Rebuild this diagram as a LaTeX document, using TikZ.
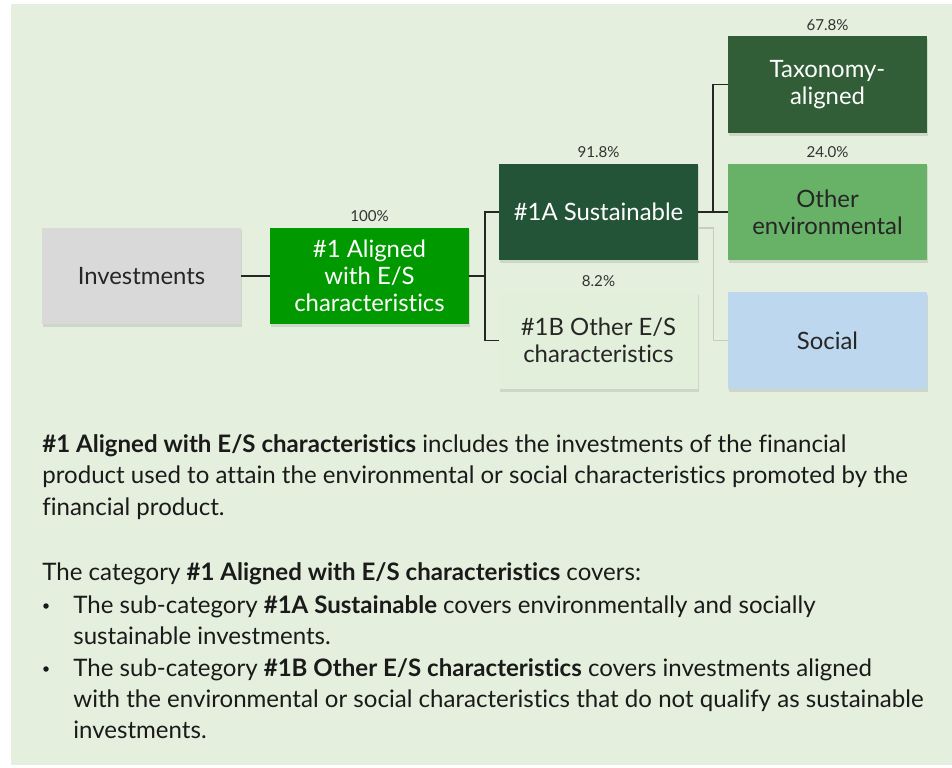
\documentclass[tikz,border=0pt]{standalone}
\usepackage{fontspec}
\setmainfont{Lato}[Ligatures=NoCommon]
\usetikzlibrary{positioning,shadows}
\definecolor{panelbg}{HTML}{E4EFDD}
\definecolor{boxgrey}{HTML}{D9D9D9}
\definecolor{alignedgreen}{HTML}{009900}
\definecolor{sustgreen}{HTML}{245438}
\definecolor{taxogreen}{HTML}{315E36}
\definecolor{envgreen}{HTML}{67B266}
\definecolor{otherlight}{HTML}{E2EFDA}
\definecolor{socialblue}{HTML}{BDD7EE}
\definecolor{linkgrey}{HTML}{C9C9C9}
\definecolor{pcttext}{HTML}{333333}
\definecolor{bodytext}{HTML}{1A1A1A}

\begin{document}
\begin{tikzpicture}[x=0.02cm, y=-0.02cm,
        every node/.style={inner sep=0pt},
        cat/.style={rectangle, minimum width=3.98cm, minimum height=1.94cm, align=center,
                font=\fontsize{13.6}{15.4}\selectfont,
                drop shadow={shadow xshift=0.6pt, shadow yshift=-1.6pt, opacity=0.22}},
        pct/.style={font=\fontsize{8.6}{10}\selectfont, text=pcttext},
        link/.style={line width=0.8pt, black!85},
        softlink/.style={line width=0.8pt, linkgrey},
        body/.style={anchor=base west, font=\fontsize{13.7}{16}\selectfont, text=bodytext},
        dot/.style={circle, fill=bodytext, minimum size=0.11cm}
    ]

    % ================= panel =================
    \useasboundingbox (0,0) rectangle (952,767);
    \fill[panelbg] (11,4) rectangle (952,765);

    % ================= asset allocation tree =================
    \node[cat, fill=boxgrey, text=black!85] (inv) at (141.5,276) {Investments};
    \node[cat, fill=alignedgreen, text=white] (aligned) at (369.5,276) {\#1 Aligned\\with E/S\\characteristics};
    \node[cat, fill=sustgreen, text=white] (sust) at (598.5,212) {\#1A Sustainable};
    \node[cat, fill=otherlight, text=black!85] (othES) at (598.5,340.5) {\#1B Other E/S\\characteristics};
    \node[cat, fill=taxogreen, text=white] (taxo) at (827.5,84.5) {Taxonomy-\\aligned};
    \node[cat, fill=envgreen, text=black!85] (env) at (827.5,212) {Other\\environmental};
    \node[cat, fill=socialblue, text=black!85] (social) at (827.5,340.5) {Social};

    \node[pct, above=0.1cm of aligned] (pAligned) {100\%};
    \node[pct, above=0.1cm of sust] (pSust) {91.8\%};
    \node[pct, above=0.1cm of othES] (pOthES) {8.2\%};
    \node[pct, above=0.1cm of taxo] (pTaxo) {67.8\%};
    \node[pct, above=0.1cm of env] (pEnv) {24.0\%};

    % ================= connectors =================
    \coordinate (fork1) at (485,276);
    \coordinate (fork2) at (713,212);
    \draw[link] (inv) -- (aligned);
    \draw[link] (aligned) -- (fork1);
    \draw[link] (sust.west) -| (fork1) |- (othES.west);
    \draw[link] (sust) -- (env);
    \draw[link] (taxo.west) -| (fork2);
    \draw[softlink] ([yshift=-0.32cm]sust.east) -- ++(15,0) |- (social.west);

    % ================= explanatory text =================
    \node[body] (txt1) at (42,452) {\textbf{\#1 Aligned with E/S characteristics} includes the investments of the financial};
    \node[body] (txt2) at (42,483) {product used to attain the environmental or social characteristics promoted by the};
    \node[body] (txt3) at (42,515) {financial product.};
    \node[body] (txt4) at (42,580) {The category \textbf{\#1 Aligned with E/S characteristics} covers:};
    \node[dot] (dot1) at (46,606) {};
    \node[body] (txt5) at (73,613) {The sub-category \textbf{\#1A Sustainable} covers environmentally and socially};
    \node[body] (txt6) at (73,644) {sustainable investments.};
    \node[dot] (dot2) at (46,669) {};
    \node[body] (txt7) at (73,676) {The sub-category \textbf{\#1B Other E/S characteristics} covers investments aligned};
    \node[body] (txt8) at (73,707) {with the environmental or social characteristics that do not qualify as sustainable};
    \node[body] (txt9) at (73,738) {investments.};

\end{tikzpicture}
\end{document}
